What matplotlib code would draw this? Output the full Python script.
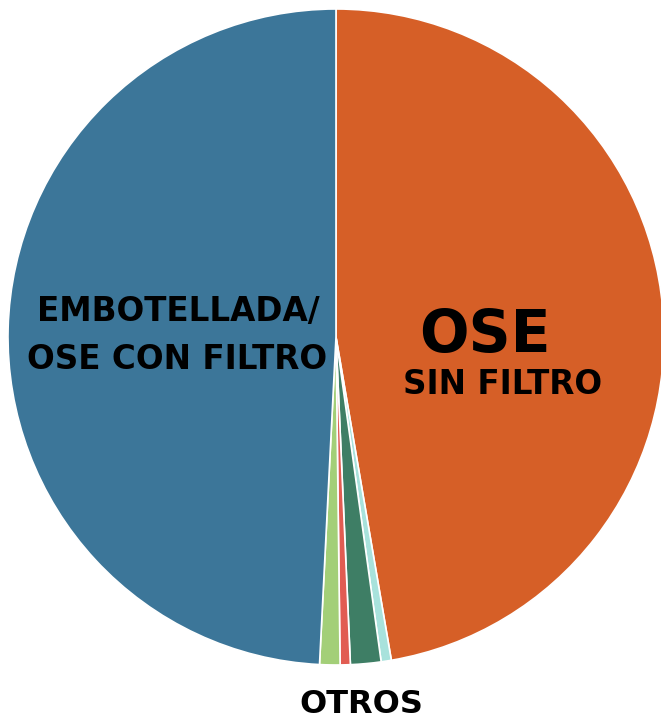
import matplotlib
matplotlib.use("Agg")
import matplotlib.pyplot as plt

# slices, clockwise from 12 o'clock
categories = ["OSE sin filtro", "Otros 1", "Otros 2", "Otros 3", "Otros 4", "Embotellada/OSE con filtro"]
values = [47.3, 0.5, 1.5, 0.5, 1.0, 49.2]
colors = ["#D65F27", "#A8E2DC", "#3E7E65", "#E15C52", "#A3CF78", "#3C7699"]

fig = plt.figure(figsize=(6.61, 7.24), dpi=100)
ax = fig.add_axes([0.0121, 0.0815, 0.9924, 0.9061])

ax.pie(values, colors=colors, startangle=90, counterclock=False, radius=1,
       wedgeprops=dict(edgecolor="white", linewidth=1.2))
ax.set_xlim(-1, 1)
ax.set_ylim(-1, 1)
ax.set_aspect("equal")
ax.axis("off")

font = dict(family="DejaVu Sans", weight="heavy", color="black", ha="center", va="center")
ax.text(0.454, 0.006, "OSE", fontsize=42, **font)
ax.text(0.509, -0.146, "SIN FILTRO", fontsize=23.5, **font)
ax.text(-0.482, 0.079, "EMBOTELLADA/", fontsize=23.5, **font)
ax.text(-0.485, -0.070, "OSE CON FILTRO", fontsize=23.5, **font)
ax.text(0.076, -1.122, "OTROS", fontsize=23, clip_on=False, **font)

fig.savefig("out.png", dpi=100)
